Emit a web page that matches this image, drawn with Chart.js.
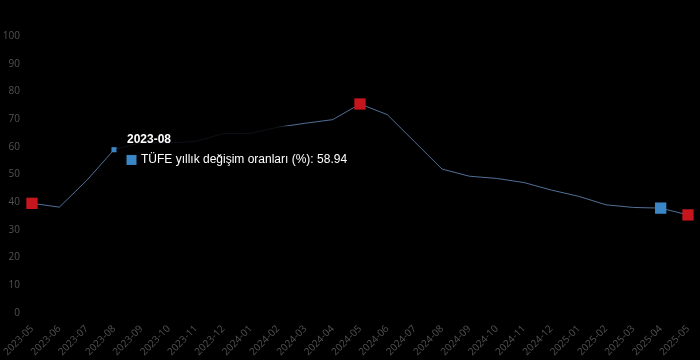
<!DOCTYPE html>
<html>
<head>
<meta charset="utf-8">
<script src="https://cdn.jsdelivr.net/npm/chart.js@4/dist/chart.umd.min.js"></script>
<style>
  html, body { margin: 0; padding: 0; background: #000; }
  #wrap { width: 700px; height: 360px; }
</style>
</head>
<body>
<div id="wrap"><canvas id="tufeChart"></canvas></div>
<script>
const months = ['2023-05', '2023-06', '2023-07', '2023-08', '2023-09', '2023-10', '2023-11', '2023-12',
    '2024-01', '2024-02', '2024-03', '2024-04', '2024-05', '2024-06', '2024-07', '2024-08', '2024-09',
    '2024-10', '2024-11', '2024-12', '2025-01', '2025-02', '2025-03', '2025-04', '2025-05'];
const tufeValues = [39.59, 38.21, 47.83, 58.94, 61.53, 61.36, 61.98, 64.77,
    64.86, 67.07, 68.50, 69.80, 75.45, 71.60, 61.78, 51.97, 49.38,
    48.58, 47.09, 44.38, 42.12, 39.05, 38.10, 37.86, 35.41];
const highlightMonths = ['2025-04'];
const hoverMonth = '2023-08';

const RED = '#c4161c';
const BLUE = '#3b86c6';
const maxIndex = tufeValues.indexOf(Math.max(...tufeValues));
const redIdx = [0, maxIndex, tufeValues.length - 1];

const pointColors = months.map((m, i) => redIdx.includes(i) ? RED : BLUE);
const pointRadius = months.map((m, i) => (redIdx.includes(i) || highlightMonths.includes(m)) ? 8 : 0);
const hoverRadius = months.map((m, i) => (redIdx.includes(i) || highlightMonths.includes(m)) ? 8 : 3.6);

const chart = new Chart(document.getElementById('tufeChart'), {
    type: 'line',
    data: {
        labels: months,
        datasets: [{
            label: 'TÜFE yıllık değişim oranları (%)',
            data: tufeValues,
            borderColor: 'rgba(95,130,175,0.85)',
            borderWidth: 1,
            tension: 0,
            pointStyle: 'rect',
            pointRadius: pointRadius,
            pointHoverRadius: hoverRadius,
            pointBackgroundColor: pointColors,
            pointBorderColor: pointColors,
            pointHoverBackgroundColor: pointColors,
            pointHoverBorderColor: pointColors,
            pointBorderWidth: 0,
            pointHoverBorderWidth: 0
        }]
    },
    options: {
        responsive: true,
        maintainAspectRatio: false,
        animation: false,
        layout: { padding: { top: 36, right: 12, left: 0, bottom: 0 } },
        scales: {
            x: {
                offset: false,
                grid: { display: false },
                border: { display: false },
                afterFit: function(scale) {
                    scale.paddingLeft = 32;
                },
                ticks: {
                    color: '#525252',
                    font: { family: 'Open Sans', size: 10 },
                    minRotation: 45,
                    maxRotation: 45,
                    autoSkip: false,
                    padding: 2
                }
            },
            y: {
                min: 0,
                max: 100,
                grid: { display: false },
                border: { display: false },
                afterFit: function(scale) {
                    scale.width = 32;
                },
                ticks: {
                    stepSize: 10,
                    color: '#525252',
                    font: { family: 'Open Sans', size: 10 },
                    padding: 4
                }
            }
        },
        plugins: {
            legend: { display: false },
            tooltip: {
                backgroundColor: 'rgba(0,0,0,0.85)',
                titleColor: '#ffffff',
                bodyColor: '#ffffff',
                titleFont: { family: 'Liberation Sans', size: 12, weight: 'bold' },
                bodyFont: { family: 'Liberation Sans', size: 12 },
                multiKeyBackground: BLUE,
                boxWidth: 9,
                boxHeight: 9,
                boxPadding: 3,
                callbacks: {
                    labelColor: function(context) {
                        return { borderColor: BLUE, backgroundColor: BLUE, borderWidth: 0 };
                    },
                    label: function(context) {
                        return context.dataset.label + ': ' + context.raw.toFixed(2);
                    }
                }
            }
        }
    }
});

const hi = months.indexOf(hoverMonth);
chart.setActiveElements([{ datasetIndex: 0, index: hi }]);
chart.tooltip.setActiveElements([{ datasetIndex: 0, index: hi }], { x: 0, y: 0 });
chart.update('none');
</script>
</body>
</html>
